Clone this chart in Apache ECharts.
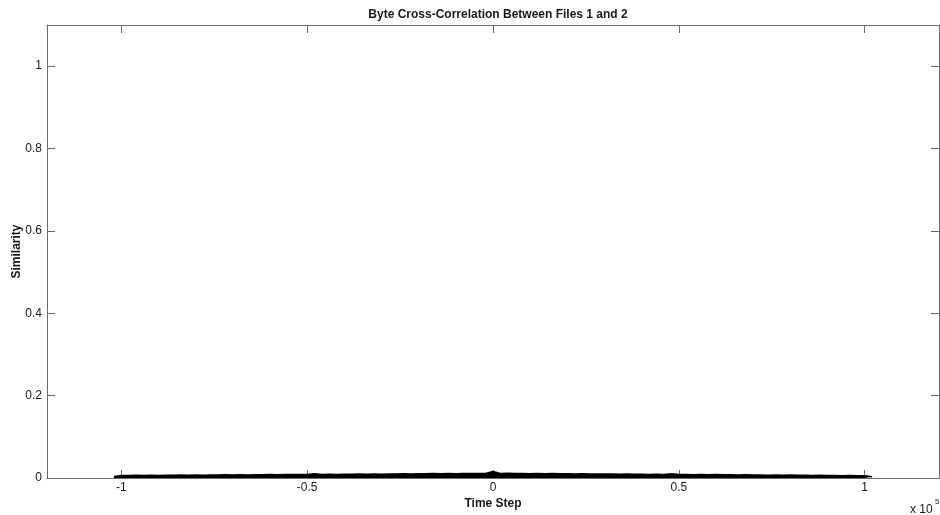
<!DOCTYPE html>
<html>
<head>
<meta charset="utf-8">
<title>Byte Cross-Correlation</title>
<script src="https://cdn.jsdelivr.net/npm/echarts@6/dist/echarts.min.js"></script>
<style>
  html, body { margin: 0; padding: 0; background: #fff; }
  #chart { width: 940px; height: 515px; }
</style>
</head>
<body>
<div id="chart"></div>
<script>
// lag positions (time steps) and the upper edge of the similarity trace
var timeSteps = [
  -102000, -100000, -98000, -96000, -94000, -92000, -90000, -88000, -86000, -84000,
  -82000, -80000, -78000, -76000, -74000, -72000, -70000, -68000, -66000, -64000,
  -62000, -60000, -58000, -56000, -54000, -52000, -50000, -48000, -46000, -44000,
  -42000, -40000, -38000, -36000, -34000, -32000, -30000, -28000, -26000, -24000,
  -22000, -20000, -18000, -16000, -14000, -12000, -10000, -8000, -6000, -4000,
  -2000, 0, 2000, 4000, 6000, 8000, 10000, 12000, 14000, 16000,
  18000, 20000, 22000, 24000, 26000, 28000, 30000, 32000, 34000, 36000,
  38000, 40000, 42000, 44000, 46000, 48000, 50000, 52000, 54000, 56000,
  58000, 60000, 62000, 64000, 66000, 68000, 70000, 72000, 74000, 76000,
  78000, 80000, 82000, 84000, 86000, 88000, 90000, 92000, 94000, 96000,
  98000, 100000, 102000
];
var similarity = [
  0.0035, 0.0058, 0.0061, 0.0064, 0.0060, 0.0066, 0.0063, 0.0068, 0.0065, 0.0070,
  0.0067, 0.0072, 0.0069, 0.0074, 0.0070, 0.0076, 0.0073, 0.0078, 0.0075, 0.0080,
  0.0077, 0.0083, 0.0079, 0.0085, 0.0082, 0.0087, 0.0084, 0.0104, 0.0086, 0.0091,
  0.0088, 0.0093, 0.0090, 0.0095, 0.0092, 0.0098, 0.0094, 0.0099, 0.0096, 0.0102,
  0.0098, 0.0104, 0.0101, 0.0107, 0.0103, 0.0109, 0.0105, 0.0111, 0.0107, 0.0112,
  0.0109, 0.0160, 0.0110, 0.0113, 0.0108, 0.0111, 0.0106, 0.0109, 0.0104, 0.0107,
  0.0102, 0.0105, 0.0099, 0.0103, 0.0097, 0.0100, 0.0095, 0.0098, 0.0093, 0.0096,
  0.0090, 0.0094, 0.0088, 0.0092, 0.0086, 0.0101, 0.0084, 0.0087, 0.0081, 0.0085,
  0.0079, 0.0082, 0.0076, 0.0080, 0.0074, 0.0077, 0.0072, 0.0075, 0.0069, 0.0072,
  0.0067, 0.0070, 0.0064, 0.0067, 0.0062, 0.0065, 0.0059, 0.0062, 0.0057, 0.0060,
  0.0055, 0.0056, 0.0033
];
var xTicks = [-100000, -50000, 0, 50000, 100000];
var yTicks = [0, 0.2, 0.4, 0.6, 0.8, 1];

var points = timeSteps.map(function (t, i) {
  return [t, similarity[i]];
});

var font = "'Liberation Sans', Arial, Helvetica, sans-serif";
var frame = "#6b6b6b";
var ink = "#1a1a1a";

var myChart = echarts.init(document.getElementById("chart"));
myChart.setOption({
  animation: false,
  backgroundColor: "#fff",
  title: {
    text: "Byte Cross-Correlation Between Files 1 and 2",
    left: 493,
    textAlign: "center",
    top: 4,
    textStyle: { fontFamily: font, fontSize: 12, fontWeight: "bold", color: ink },
  },
  grid: { left: 47, right: 1, top: 25, bottom: 37, containLabel: false },
  xAxis: [
    {
      type: "value",
      position: "bottom",
      min: -120000,
      max: 120000,
      name: "Time Step",
      nameLocation: "middle",
      nameGap: 20,
      nameMoveOverlap: false,
      nameTextStyle: { fontFamily: font, fontSize: 12, fontWeight: "bold", color: ink },
      axisLine: { onZero: false, lineStyle: { color: frame, width: 1 } },
      axisTick: { inside: true, length: 8, customValues: xTicks, lineStyle: { color: frame } },
      axisLabel: {
        customValues: xTicks,
        margin: 4,
        fontFamily: font,
        fontSize: 12,
        color: ink,
        formatter: function (v) {
          return String(v / 100000);
        },
      },
      splitLine: { show: false },
    },
    {
      type: "value",
      position: "top",
      min: -120000,
      max: 120000,
      axisLine: { onZero: false, lineStyle: { color: frame, width: 1 } },
      axisTick: { inside: true, length: 8, customValues: xTicks, lineStyle: { color: frame } },
      axisLabel: { show: false },
      splitLine: { show: false },
    },
  ],
  yAxis: [
    {
      type: "value",
      position: "left",
      min: 0,
      max: 1.1,
      name: "Similarity",
      nameLocation: "middle",
      nameGap: 24,
      nameMoveOverlap: false,
      nameTextStyle: { fontFamily: font, fontSize: 12, fontWeight: "bold", color: ink },
      axisLine: { show: true, onZero: false, lineStyle: { color: frame, width: 1 } },
      axisTick: { show: true, inside: true, length: 8, customValues: yTicks, lineStyle: { color: frame } },
      axisLabel: {
        customValues: yTicks,
        margin: 5,
        fontFamily: font,
        fontSize: 12,
        color: ink,
      },
      splitLine: { show: false },
    },
    {
      type: "value",
      position: "right",
      min: 0,
      max: 1.1,
      axisLine: { show: true, onZero: false, lineStyle: { color: frame, width: 1 } },
      axisTick: { show: true, inside: true, length: 8, customValues: yTicks, lineStyle: { color: frame } },
      axisLabel: { show: false },
      splitLine: { show: false },
    },
  ],
  graphic: [
    {
      type: "text",
      left: 910,
      top: 504,
      style: { text: "x 10", fontFamily: font, fontSize: 12, fill: ink },
    },
    {
      type: "text",
      left: 935,
      top: 498,
      style: { text: "5", fontFamily: font, fontSize: 8, fill: ink },
    },
  ],
  series: [
    {
      name: "Similarity",
      type: "line",
      xAxisIndex: 0,
      yAxisIndex: 0,
      showSymbol: false,
      symbol: "none",
      lineStyle: { color: "#000", width: 1.5 },
      areaStyle: { color: "#000", opacity: 1 },
      data: points,
    },
  ],
});
</script>
</body>
</html>
